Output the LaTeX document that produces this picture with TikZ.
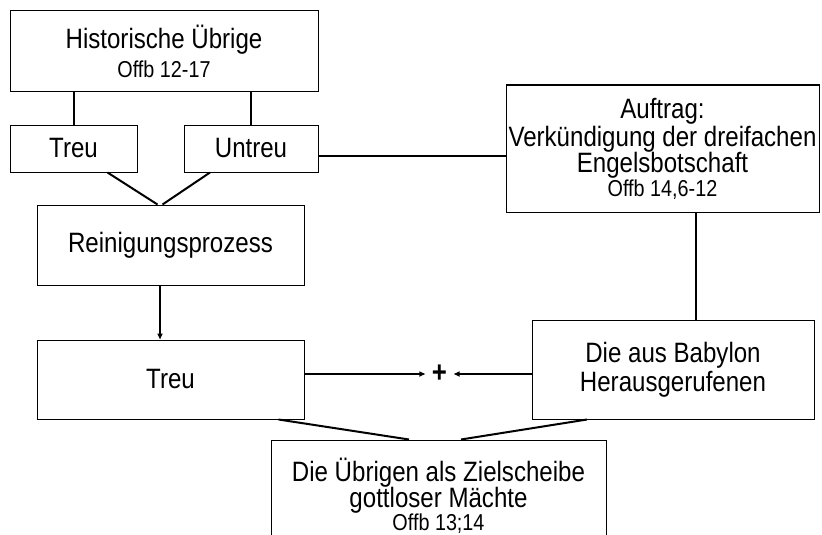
\documentclass[tikz,border=0pt]{standalone}
\usepackage{fontspec}
\setmainfont{Liberation Sans}[FakeStretch=0.86]
\usetikzlibrary{arrows.meta}
\newcommand{\mainsz}{\fontsize{28}{27}\selectfont}
\newcommand{\subsz}{\fontsize{23}{22}\selectfont}
\tikzset{
  box/.style={draw=black, line width=1pt, inner sep=0pt, align=center, font=\mainsz},
  conn/.style={line width=2pt, black},
  arr/.style={line width=1.5pt, black, -{Triangle[length=6pt,width=5pt]}},
}
\begin{document}
\begin{tikzpicture}[x=1pt,y=-1pt]
\useasboundingbox (0,0) rectangle (822,535);
\fill[white] (0,0) rectangle (822,535);
\begin{scope}
\clip (0,0) rectangle (822,535);
\node[box, minimum width=308pt, minimum height=80pt] (hist) at (164,51)
  {Historische Übrige\\[2pt]{\subsz Offb 12-17}};
\node[box, minimum width=127pt, minimum height=47pt] (treuA) at (73.5,148.5) {Treu};
\node[box, minimum width=134pt, minimum height=47pt] (untreu) at (251,148.5) {Untreu};
\node[box, minimum width=313pt, minimum height=127pt] (auftrag) at (662.5,148.5)
  {Auftrag:\\[1pt]Verkündigung der dreifachen\\[-1pt]Engelsbotschaft\\[-3pt]{\subsz Offb 14,6-12}};
\node[box, minimum width=267pt, minimum height=80pt] (rein) at (170.5,245) {Reinigungsprozess};
\node[box, minimum width=267pt, minimum height=79pt] (treuB) at (170.5,379.5) {Treu};
\node[box, minimum width=282pt, minimum height=99pt] (baby) at (673,369.5)
  {Die aus Babylon\\[2pt]Herausgerufenen};
\node[box, minimum width=335pt, minimum height=112pt] (ziel) at (438.5,496)
  {Die Übrigen als Zielscheibe\\[-1pt]gottloser Mächte\\[-4pt]{\subsz Offb 13;14}};
\node[inner sep=0pt, minimum width=28pt, minimum height=14pt, font=\fontsize{30}{30}\selectfont\bfseries] (plus) at (439.5,374) {+};

\draw[conn] (hist.south -| treuA.north) -- (treuA.north);
\draw[conn] (hist.south -| untreu.north) -- (untreu.north);
\draw[line width=1.6pt] ([yshift=-7.5pt]untreu.east) -- ([yshift=-7.5pt]untreu.east -| auftrag.west);
\draw[conn] ([xshift=34pt]treuA.south) -- ([xshift=-13pt]rein.north);
\draw[conn] ([xshift=-41pt]untreu.south) -- ([xshift=-8pt]rein.north);
\draw[arr] ([xshift=-10.5pt]rein.south) -- ([xshift=-10.5pt]treuB.north);
\draw[arr] ([yshift=5.5pt]treuB.east) -- (plus.west);
\draw[arr] ([yshift=-4.5pt]baby.west) -- (plus.east);
\draw[conn] ([xshift=33.5pt]auftrag.south) -- ([xshift=23pt]baby.north);
\draw[conn] ([xshift=108pt]treuB.south) -- ([xshift=-29.5pt]ziel.north);
\draw[conn] ([xshift=-86pt]baby.south) -- ([xshift=22.5pt]ziel.north);
\end{scope}
\end{tikzpicture}
\end{document}
